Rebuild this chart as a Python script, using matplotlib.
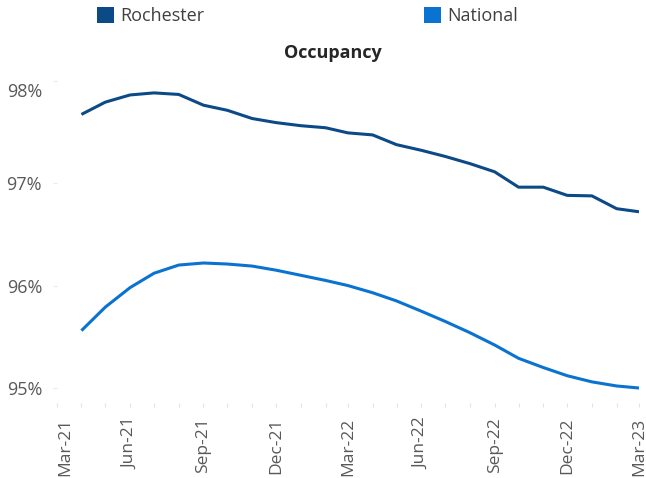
import matplotlib
matplotlib.use("Agg")
import matplotlib.pyplot as plt
import matplotlib.dates as mdates
from matplotlib.patches import Patch
from matplotlib.ticker import FixedLocator, FuncFormatter
from matplotlib.transforms import ScaledTranslation
import pandas as pd

months = ["Apr-21", "May-21", "Jun-21", "Jul-21", "Aug-21", "Sep-21", "Oct-21", "Nov-21",
          "Dec-21", "Jan-22", "Feb-22", "Mar-22", "Apr-22", "May-22", "Jun-22", "Jul-22",
          "Aug-22", "Sep-22", "Oct-22", "Nov-22", "Dec-22", "Jan-23", "Feb-23", "Mar-23"]
rochester = [97.67, 97.79, 97.86, 97.88, 97.865, 97.76, 97.71, 97.63, 97.59, 97.56, 97.54, 97.49,
             97.47, 97.375, 97.32, 97.26, 97.19, 97.11, 96.96, 96.96, 96.88, 96.875, 96.75, 96.72]
national = [95.56, 95.79, 95.98, 96.12, 96.20, 96.22, 96.21, 96.19, 96.15, 96.10, 96.05, 96.00,
            95.93, 95.85, 95.75, 95.65, 95.54, 95.42, 95.29, 95.20, 95.12, 95.06, 95.02, 95.00]
yticks = [95, 96, 97, 98]
series_names = ["Rochester", "National"]
colors = ["#0B4A87", "#0A72D0"]

dates = pd.to_datetime(months, format="%b-%y")

plt.rcParams["font.family"] = ["Open Sans", "DejaVu Sans"]

W, H = 646, 478
fig = plt.figure(figsize=(W / 100, H / 100), dpi=100)
left, right = 56.7, 639
bottom, top = 403, 80.6
ax = fig.add_axes([left / W, 1 - bottom / H, (right - left) / W, (bottom - top) / H])

for vals, c in zip([rochester, national], colors):
    ax.plot(dates, vals, color=c, lw=2.2, solid_capstyle="butt", solid_joinstyle="round")

ax.set_xlim(pd.Timestamp("2021-03-01"), pd.Timestamp("2023-03-01"))
ax.set_ylim(95 - 15 / 102.6, 98.0)

ax.xaxis.set_major_locator(mdates.MonthLocator(bymonth=[3, 6, 9, 12]))
ax.xaxis.set_minor_locator(mdates.MonthLocator())
ax.xaxis.set_major_formatter(mdates.DateFormatter("%b-%y"))
ax.yaxis.set_major_locator(FixedLocator(yticks))
ax.yaxis.set_major_formatter(FuncFormatter(lambda v, p: f"{v:.0f}%"))

for s in ax.spines.values():
    s.set_visible(False)

ax.tick_params(axis="x", which="both", direction="out", length=3, width=0.8,
               color="#E3E3E3", labelsize=12.5, labelcolor="#595959", pad=7.5,
               labelrotation=90)
ax.tick_params(axis="y", which="major", direction="out", length=3, width=0.8,
               color="#EBEBEB", labelsize=13, labelcolor="#595959", pad=7.5)

fig.text(332.5 / W, 1 - 53 / H, "Occupancy", ha="center", va="center",
         fontsize=13, fontweight="bold", color="#262626")

handles = [Patch(facecolor=c, edgecolor="none") for c in colors]
fig.legend(handles, series_names, loc="upper left", bbox_to_anchor=(97 / W, 1 - 7 / H),
           ncol=2, frameon=False, fontsize=13, handlelength=0.95, handleheight=0.95,
           handletextpad=0.35, columnspacing=12.15, borderpad=0, borderaxespad=0,
           labelcolor="#404040")

# edge labels are nudged inward in the reference
fig.canvas.draw()
top_tick = ax.yaxis.get_major_ticks()[-1]
top_tick.label1.set_transform(top_tick.label1.get_transform()
                              + ScaledTranslation(0, -9 / 100, fig.dpi_scale_trans))
first_tick = ax.xaxis.get_major_ticks()[0]
first_tick.label1.set_transform(first_tick.label1.get_transform()
                                + ScaledTranslation(9 / 100, 0, fig.dpi_scale_trans))

fig.savefig("out.png", dpi=100)
